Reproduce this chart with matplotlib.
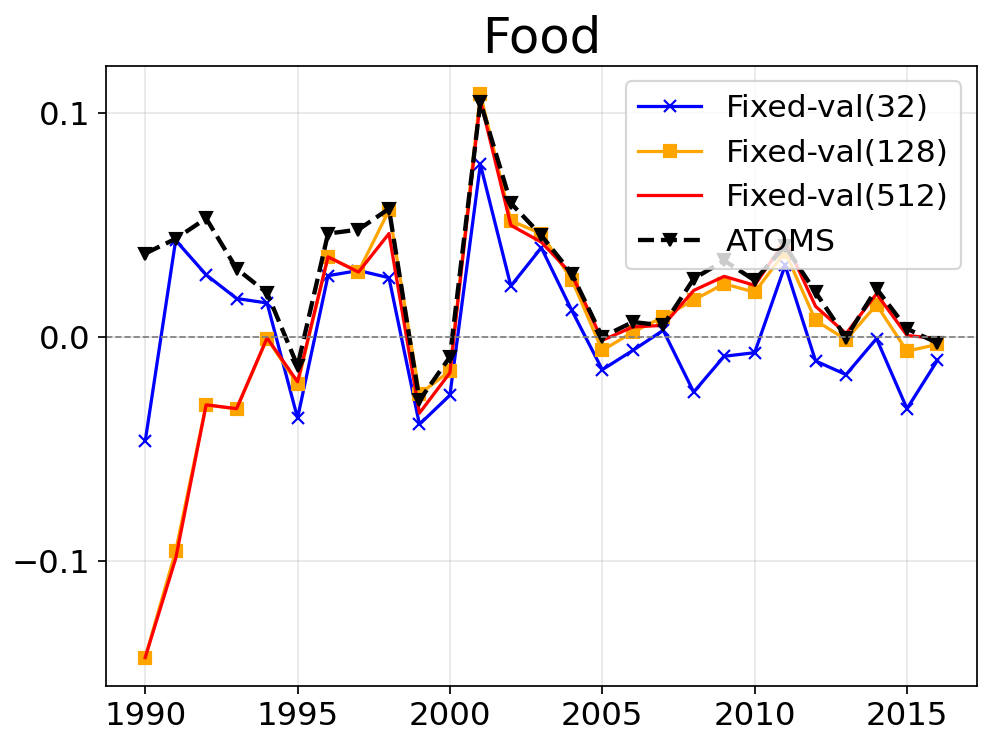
import matplotlib
matplotlib.use('Agg')
import matplotlib.pyplot as plt
from matplotlib.ticker import MultipleLocator

years = list(range(1990, 2017))

fixed_32 = [-0.0466, 0.0432, 0.0278, 0.0172, 0.0152, -0.0362, 0.0274, 0.0297, 0.0265, -0.0390,
            -0.0260, 0.0771, 0.0228, 0.0399, 0.0119, -0.0146, -0.0060, 0.0030, -0.0246, -0.0086,
            -0.0070, 0.0320, -0.0107, -0.0168, -0.0007, -0.0320, -0.0104]
fixed_128 = [-0.1432, -0.0957, -0.0303, -0.0321, -0.0007, -0.0210, 0.0358, 0.0292, 0.0566, -0.0255,
             -0.0152, 0.1086, 0.0520, 0.0461, 0.0256, -0.0060, 0.0022, 0.0089, 0.0165, 0.0238,
             0.0200, 0.0380, 0.0074, -0.0012, 0.0144, -0.0063, -0.0033]
fixed_512 = [-0.1432, -0.0990, -0.0303, -0.0320, -0.0004, -0.0200, 0.0358, 0.0290, 0.0462, -0.0340,
             -0.0160, 0.1057, 0.0499, 0.0424, 0.0280, -0.0015, 0.0045, 0.0052, 0.0208, 0.0271,
             0.0231, 0.0430, 0.0137, 0.0015, 0.0193, 0.0007, -0.0007]
atoms = [0.0373, 0.0439, 0.0530, 0.0305, 0.0197, -0.0129, 0.0462, 0.0480, 0.0573, -0.0283,
         -0.0089, 0.1050, 0.0598, 0.0454, 0.0283, 0.0000, 0.0067, 0.0052, 0.0260, 0.0342,
         0.0253, 0.0406, 0.0200, -0.0003, 0.0216, 0.0037, -0.0027]


def main():
    fig, ax = plt.subplots(figsize=(6.4, 4.8), dpi=155.625)
    ax.plot(years, fixed_32, color='blue', marker='x', label='Fixed-val(32)')
    ax.plot(years, fixed_128, color='orange', marker='s', label='Fixed-val(128)')
    ax.plot(years, fixed_512, color='red', label='Fixed-val(512)')
    ax.plot(years, atoms, color='black', linestyle='--', marker='v', linewidth=2, label='ATOMS')
    ax.axhline(0, color='gray', linestyle='--', linewidth=0.8)
    ax.yaxis.set_major_locator(MultipleLocator(0.1))
    ax.grid(True, alpha=0.3)
    ax.set_title('Food', fontsize=23)
    ax.tick_params(labelsize=15)
    ax.legend(fontsize=14.5, loc='upper right')
    fig.subplots_adjust(left=0.106, right=0.981, top=0.912, bottom=0.082)
    fig.savefig('out.png')


if __name__ == '__main__':
    main()
